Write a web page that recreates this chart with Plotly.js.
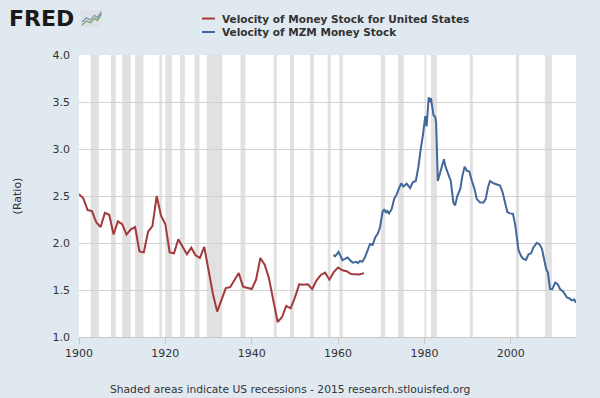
<!DOCTYPE html>
<html>
<head>
<meta charset="utf-8">
<script src="https://cdn.plot.ly/plotly-3.0.1.min.js"></script>
<style>html,body{margin:0;padding:0;background:#e1e9f0;}#chart{width:600px;height:398px;}</style>
</head>
<body>
<div id="chart"></div>
<script>
// Velocity of Money Stock for United States (annual)
var redYears = [];
for (var y = 1900; y <= 1966; y++) redYears.push(y);
var redValues = [2.52,2.475,2.35,2.34,2.22,2.17,2.32,2.30,2.09,2.23,
  2.20,2.09,2.145,2.17,1.91,1.90,2.12,2.18,2.50,2.29,
  2.20,1.90,1.89,2.04,1.96,1.88,1.95,1.87,1.84,1.96,
  1.71,1.46,1.27,1.39,1.52,1.53,1.61,1.68,1.535,1.525,
  1.51,1.61,1.84,1.77,1.625,1.39,1.16,1.21,1.33,1.305,
  1.42,1.56,1.555,1.56,1.51,1.60,1.66,1.685,1.61,1.69,
  1.74,1.71,1.70,1.67,1.665,1.665,1.68];

// Velocity of MZM Money Stock
var blueYears = [1958.9,1959.3,1959.7,1960.1,1960.5,1961.0,1961.6,1962.2,1962.8,1963.4,1964.2,1964.6,1965.1,1965.6,1966.2,1966.8,1967.4,1968.0,1968.6,1969.2,1969.7,1970.3,1970.7,1971.1,1971.4,1971.8,1972.4,1973.0,1973.6,1974.1,1974.6,1975.1,1975.9,1976.7,1977.3,1978.0,1978.6,1979.2,1979.6,1980.2,1980.5,1981.0,1981.3,1981.5,1982.1,1982.5,1982.7,1983.1,1983.6,1984.2,1984.5,1984.9,1985.6,1986.1,1986.7,1987.1,1987.6,1988.3,1988.8,1989.3,1989.8,1990.4,1991.0,1991.6,1992.1,1992.9,1993.7,1994.2,1994.7,1995.2,1996.0,1996.8,1997.5,1998.1,1998.7,1999.2,1999.8,2000.5,2001.0,2001.4,2001.8,2002.4,2002.9,2003.5,2004.1,2004.7,2005.2,2006.0,2006.6,2007.2,2007.7,2008.2,2008.6,2009.1,2009.6,2010.3,2010.9,2011.4,2012.2,2013.0,2013.6,2014.1,2014.7,2015.1];
var blueValues = [1.87,1.86,1.88,1.905,1.87,1.817,1.83,1.845,1.817,1.79,1.80,1.785,1.81,1.80,1.845,1.916,1.99,1.98,2.06,2.10,2.165,2.33,2.36,2.32,2.34,2.315,2.36,2.47,2.52,2.58,2.635,2.60,2.63,2.585,2.646,2.66,2.81,3.02,3.13,3.35,3.24,3.55,3.50,3.54,3.36,3.34,3.28,2.66,2.735,2.82,2.89,2.81,2.72,2.66,2.43,2.40,2.50,2.575,2.717,2.81,2.77,2.76,2.66,2.575,2.47,2.43,2.43,2.47,2.59,2.66,2.635,2.62,2.61,2.54,2.43,2.33,2.315,2.31,2.20,2.06,1.92,1.86,1.83,1.82,1.88,1.89,1.95,2.00,1.99,1.94,1.83,1.72,1.685,1.51,1.51,1.58,1.56,1.51,1.48,1.42,1.41,1.39,1.40,1.365];

var seriesNames = ['Velocity of Money Stock for United States', 'Velocity of MZM Money Stock'];
var seriesColors = ['#a2393c', '#41689a'];

// US recessions (decimal years)
var recStart = [1902.7,1907.4,1910.0,1913.0,1918.6,1920.0,1923.4,1926.8,1929.6,1937.4,1945.1,1948.9,1953.5,1957.6,1960.3,1969.9,1973.9,1980.0,1981.5,1990.5,2001.2,2007.9];
var recEnd   = [1904.6,1908.5,1912.0,1914.9,1919.2,1921.5,1924.5,1927.9,1933.2,1938.5,1945.8,1949.8,1954.4,1958.3,1961.1,1970.9,1975.2,1980.4,1982.9,1991.2,2001.9,2009.5];

var xTicks = [1900,1920,1940,1960,1980,2000];
var xTickText = ['1900','1920','1940','1960','1980','2000'];
var yTicks = [1.0,1.5,2.0,2.5,3.0,3.5,4.0];
var yTickText = ['1.0','1.5','2.0','2.5','3.0','3.5','4.0'];

var shapes = [];
for (var i = 0; i < recStart.length; i++) {
  shapes.push({type:'rect', xref:'x', yref:'paper', x0:recStart[i], x1:recEnd[i], y0:0, y1:1,
    fillcolor:'#e1e1e1', line:{width:0}, layer:'below'});
}
// small logo icon
shapes.push({type:'rect', xref:'paper', yref:'paper', x0:0.003, x1:0.0463, y0:1.099, y1:1.158,
  fillcolor:'#dde1e4', line:{width:0}});
shapes.push({type:'path', xref:'paper', yref:'paper',
  path:'M 0.006 1.106 L 0.015 1.121 L 0.023 1.114 L 0.031 1.13 L 0.037 1.122 L 0.045 1.146',
  line:{color:'#6f9e5f', width:1.2}});
shapes.push({type:'path', xref:'paper', yref:'paper',
  path:'M 0.006 1.117 L 0.015 1.132 L 0.023 1.124 L 0.031 1.141 L 0.037 1.132 L 0.045 1.154',
  line:{color:'#7a93b5', width:1.2}});

// legend (drawn as annotations + line keys)
var legendRowsY = [1.1294, 1.0816];
var annotations = [
  {text:'<b>FRED</b>', xref:'paper', yref:'paper', x:-0.1449, y:1.1277, xanchor:'left', yanchor:'middle',
   showarrow:false, font:{family:'DejaVu Sans, Arial Black, sans-serif', size:22, color:'#1a1a1a'}},
  {text:'Shaded areas indicate US recessions - 2015 research.stlouisfed.org', xref:'paper', yref:'paper',
   x:0.425, y:-0.185, xanchor:'center', yanchor:'middle', showarrow:false,
   font:{size:10.7, color:'#333333'}}
];
for (var k = 0; k < seriesNames.length; k++) {
  shapes.push({type:'line', xref:'paper', yref:'paper', x0:0.2475, x1:0.2736,
    y0:legendRowsY[k], y1:legendRowsY[k], line:{color:seriesColors[k], width:2}});
  annotations.push({text:'<b>' + seriesNames[k] + '</b>', xref:'paper', yref:'paper',
    x:0.2837, y:legendRowsY[k], xanchor:'left', yanchor:'middle', showarrow:false,
    font:{size:10.5, color:'#333333'}});
}

var data = [
  {x: redYears, y: redValues, type:'scatter', mode:'lines', name:seriesNames[0],
   line:{color:seriesColors[0], width:2}},
  {x: blueYears, y: blueValues, type:'scatter', mode:'lines', name:seriesNames[1],
   line:{color:seriesColors[1], width:2}}
];

var layout = {
  width:600, height:398,
  paper_bgcolor:'#e1e9f0', plot_bgcolor:'#ffffff',
  margin:{l:79, r:24, t:55, b:61},
  font:{family:'DejaVu Sans, Verdana, sans-serif', color:'#333333', size:11},
  showlegend:false,
  xaxis:{range:[1900,2015.1], tickvals:xTicks, ticktext:xTickText, showgrid:false, zeroline:false,
    showline:true, linecolor:'#c8c8c8', linewidth:1, ticks:'outside', ticklen:6, tickcolor:'#c8c8c8',
    tickfont:{size:11, color:'#333333'}, fixedrange:true},
  yaxis:{range:[1.0,4.0], tickvals:yTicks, ticktext:yTickText, showgrid:true, gridcolor:'#d2d2d2', gridwidth:1,
    zeroline:false, showline:false, ticks:'', ticklabelstandoff:8,
    tickfont:{size:11, color:'#333333'},
    title:{text:'(Ratio)', font:{size:11, color:'#333333'}, standoff:28}},
  shapes: shapes,
  annotations: annotations
};

Plotly.newPlot('chart', data, layout, {displayModeBar:false, staticPlot:true});
</script>
</body>
</html>
